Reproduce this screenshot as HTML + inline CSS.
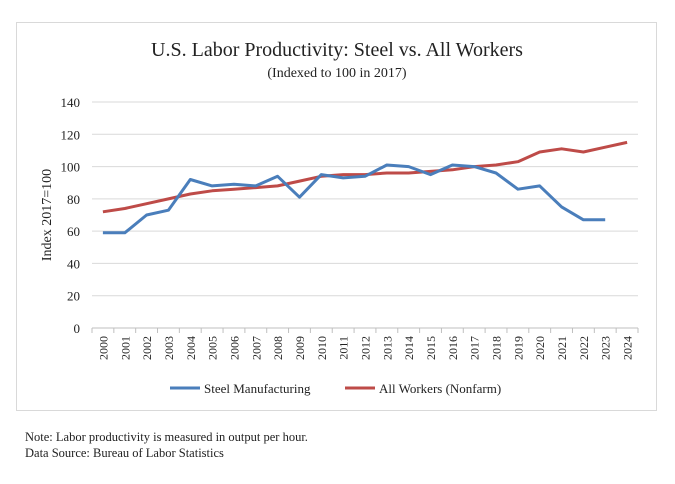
<!DOCTYPE html>
<html><head><meta charset="utf-8"><style>
body{margin:0;background:#fff;width:675px;height:484px;overflow:hidden;font-family:"Liberation Serif",serif}
</style></head><body>
<svg width="675" height="484" style="position:absolute;left:0;top:0;font-family:'Liberation Serif',serif">
<rect x="0" y="0" width="675" height="484" fill="#fff"/>
<rect x="16.5" y="22.5" width="640" height="388" fill="#fff" stroke="#d9d9d9"/>
<text x="337" y="56" text-anchor="middle" font-size="20" fill="#222">U.S. Labor Productivity: Steel vs. All Workers</text>
<text x="337" y="77" text-anchor="middle" font-size="14" fill="#222">(Indexed to 100 in 2017)</text>
<text transform="translate(51,215) rotate(-90)" text-anchor="middle" font-size="14" fill="#222">Index 2017=100</text>
<g id="grid"></g><g id="lines"></g><g id="xlab"></g>
<g>
<line x1="170" y1="388" x2="200" y2="388" stroke="#4a7ebb" stroke-width="3"/>
<text x="204" y="393" font-size="13" fill="#222">Steel Manufacturing</text>
<line x1="345" y1="388" x2="375" y2="388" stroke="#be4b48" stroke-width="3"/>
<text x="379" y="393" font-size="13" fill="#222">All Workers (Nonfarm)</text>
</g>
<text x="25" y="441" font-size="12.5" fill="#222">Note: Labor productivity is measured in output per hour.</text>
<text x="25" y="457" font-size="12.5" fill="#222">Data Source: Bureau of Labor Statistics</text>
</svg>
<script>
const years=["2000","2001","2002","2003","2004","2005","2006","2007","2008","2009","2010","2011","2012","2013","2014","2015","2016","2017","2018","2019","2020","2021","2022","2023","2024"];
const steel=[59,59,70,73,92,88,89,88,94,81,95,93,94,101,100,95,101,100,96,86,88,75,67,67,null];
const allWorkers=[72,74,77,80,83,85,86,87,88,91,94,95,95,96,96,97,98,100,101,103,109,111,109,112,115];
const yTicks=[0,20,40,60,80,100,120,140];
const NS="http://www.w3.org/2000/svg";
const L=92,R=638,T=102,B=328,yMax=140;
const step=(R-L)/years.length;
const xs=i=>L+step*(i+0.5);
const ys=v=>B-(v/yMax)*(B-T);
function mk(t,a,p){const e=document.createElementNS(NS,t);for(const k in a)e.setAttribute(k,a[k]);p.appendChild(e);return e;}
const grid=document.getElementById('grid');
yTicks.forEach(v=>{
 const y=ys(v);
 if(v>0){const g=mk('line',{x1:L,x2:R,y1:y,y2:y,stroke:'#d9d9d9'},grid);
 
 }
 const t=mk('text',{x:80,y:y+5,'text-anchor':'end','font-size':13,fill:'#222'},grid);t.textContent=v;
 
 
});
const ax=mk('line',{x1:L,x2:R,y1:B,y2:B,stroke:'#bfbfbf'},grid);


const xl=document.getElementById('xlab');
for(let i=0;i<=years.length;i++){const x=L+step*i;const tk=mk('line',{x1:x,x2:x,y1:B,y2:B+5,stroke:'#bfbfbf'},grid);
 
 }
years.forEach((yr,i)=>{
 const t=mk('text',{transform:`translate(${xs(i)+4.5},${B+8}) rotate(-90)`,'text-anchor':'end','font-size':12,fill:'#222'},xl);t.textContent=yr;
 
 
});
const lines=document.getElementById('lines');
function draw(arr,col,name){
 const pts=[];arr.forEach((v,i)=>{if(v!=null)pts.push(xs(i).toFixed(1)+','+ys(v).toFixed(1));});
 const p=mk('polyline',{points:pts.join(' '),fill:'none',stroke:col,'stroke-width':3,'stroke-linejoin':'round'},lines);
 
 
}
draw(allWorkers,'#be4b48','all-workers-line');
draw(steel,'#4a7ebb','steel-line');
</script>
</body></html>
